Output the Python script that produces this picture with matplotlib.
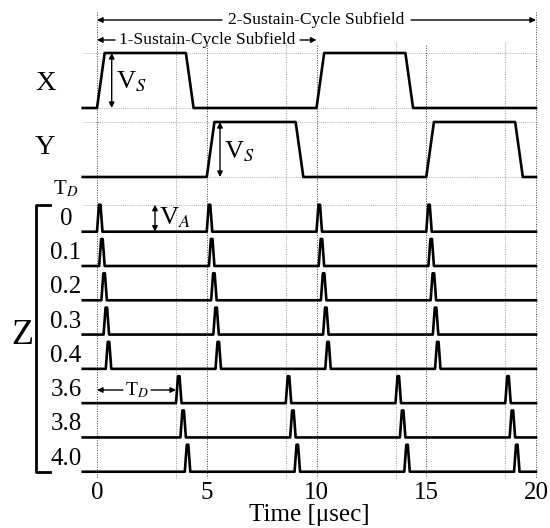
# --- IMPORT LIBRARIES ---
import matplotlib.pyplot as plt
from matplotlib.patches import FancyArrowPatch

plt.rcParams['font.family'] = ['Liberation Serif', 'DejaVu Serif']
plt.rcParams['mathtext.fontset'] = 'stix'

# --- WAVEFORM DATA (time in usec) ---
x_time = [-0.65, 0, 0.35, 4.05, 4.4, 10, 10.35, 14.05, 14.4, 20]
x_level = [0, 0, 1, 1, 0, 0, 1, 1, 0, 0]
y_time = [-0.65, 5, 5.35, 9.05, 9.4, 15, 15.35, 19.05, 19.4, 20]
y_level = [0, 0, 1, 1, 0, 0, 1, 1, 0, 0]

z_delays = [0, 0.1, 0.2, 0.3, 0.4, 3.6, 3.8, 4.0]
z_labels = ["0", "0.1", "0.2", "0.3", "0.4", "3.6", "3.8", "4.0"]
sustain_starts = [0, 5, 10, 15]
pulse_time = [0, 0.09, 0.16, 0.25]
pulse_level = [0, 1, 1, 0]

major_grid = [0, 5, 10, 15, 20]
minor_grid = [3.6, 8.6, 13.6, 18.6]
tick_times = [0, 5, 10, 15, 20]

# --- LAYOUT (figure pixels, y grows downward) ---
PX0, PX_PER_US = 97, 21.95
def px(p):
    return (p - PX0) / PX_PER_US

X_BASE, Y_BASE, SIG_AMP = 108, 177, 55
Z_BASE0, Z_STEP, Z_AMP = 231.7, 34.29, 27
T_START, T_END = -0.65, 20
LW = 1.9

fig = plt.figure(figsize=(5.5, 5.28), dpi=100)
ax = fig.add_axes([0, 0, 1, 1])
ax.set_xlim(px(0), px(550))
ax.set_ylim(528, 0)
ax.axis("off")

# --- GRID ---
z_bases = [Z_BASE0 + i * Z_STEP for i in range(len(z_delays))]
for t in major_grid:
    top = 12 if t in (0, 20) else 45
    ax.plot([t, t], [top, 478], color="#444444", lw=0.7, ls=(0, (1, 1.5)), zorder=1)
for t in minor_grid:
    ax.plot([t, t], [42, 478], color="#999999", lw=0.7, ls=(0, (1, 1.5)), zorder=1)
for yy in [X_BASE - SIG_AMP, X_BASE, Y_BASE - SIG_AMP, Y_BASE, z_bases[0] - Z_AMP]:
    ax.plot([T_START, T_END], [yy, yy], color="#999999", lw=0.6, ls=(0, (1, 1.5)), zorder=1)

# --- X / Y SUSTAIN WAVEFORMS ---
ax.plot(x_time, [X_BASE - SIG_AMP * v for v in x_level], color="black", lw=LW, zorder=3)
ax.plot(y_time, [Y_BASE - SIG_AMP * v for v in y_level], color="black", lw=LW, zorder=3)

# --- Z ADDRESS PULSES ---
for d, base in zip(z_delays, z_bases):
    ts, vs = [T_START], [0]
    for s in sustain_starts:
        ts += [s + d + p for p in pulse_time]
        vs += pulse_level
    ts.append(T_END)
    vs.append(0)
    ax.plot(ts, [base - Z_AMP * v for v in vs], color="black", lw=LW, zorder=3)

# --- LABELS ---
ax.text(px(46), 83, "X", fontsize=20.5, ha="center", va="center")
ax.text(px(45), 148, "Y", fontsize=20.5, ha="center", va="center")
ax.text(px(22), 336, "Z", fontsize=26, ha="center", va="center")
ax.text(px(66), 189, r"T$_{D}$", fontsize=15, ha="center", va="center")
for lab, base in zip(z_labels, z_bases):
    ax.text(px(66), base - 13, lab, fontsize=18, ha="center", va="center")

# bracket for Z rows
ax.plot([px(50), px(36), px(36), px(50)], [205, 205, 472, 472], color="black", lw=2,
        solid_joinstyle="round", zorder=3)

# tick labels and axis title
for t in tick_times:
    ax.text(t, 493, str(t), fontsize=18, ha="center", va="center")
ax.text(px(309), 515, "Time [μsec]", fontsize=18, ha="center", va="center")

# --- ANNOTATION ARROWS ---
def arrow(x0, y0, x1, y1, style):
    ax.add_patch(FancyArrowPatch((x0, y0), (x1, y1), arrowstyle=style, mutation_scale=8,
                                 lw=1.0, color="black", shrinkA=0, shrinkB=0, zorder=4))

arrow(px(111.7), X_BASE - SIG_AMP, px(111.7), X_BASE, "<|-|>")
ax.text(px(116), 82, r"V$_{S}$", fontsize=19, ha="left", va="center")
arrow(px(220), Y_BASE - SIG_AMP, px(220), Y_BASE, "<|-|>")
ax.text(px(224), 152, r"V$_{S}$", fontsize=19, ha="left", va="center")
arrow(px(155), z_bases[0] - Z_AMP, px(155), z_bases[0], "<|-|>")
ax.text(px(159), 218, r"V$_{A}$", fontsize=19, ha="left", va="center")

# T_D span in the 3.6 row
ax.text(1.8, 390, r"T$_{D}$", fontsize=14, ha="center", va="center")
arrow(px(123), 390, 0, 390, "-|>")
arrow(px(151), 390, 3.6, 390, "-|>")

# subfield spans
ax.text(10, 20, "2-Sustain-Cycle Subfield", fontsize=12.6, ha="center", va="center")
arrow(px(222), 20, 0, 20, "-|>")
arrow(px(411), 20, 20, 20, "-|>")
ax.text(5, 40, "1-Sustain-Cycle Subfield", fontsize=12.6, ha="center", va="center")
arrow(px(115), 40, 0, 40, "-|>")
arrow(px(300), 40, 10, 40, "-|>")

plt.savefig("out.png", dpi=100)
